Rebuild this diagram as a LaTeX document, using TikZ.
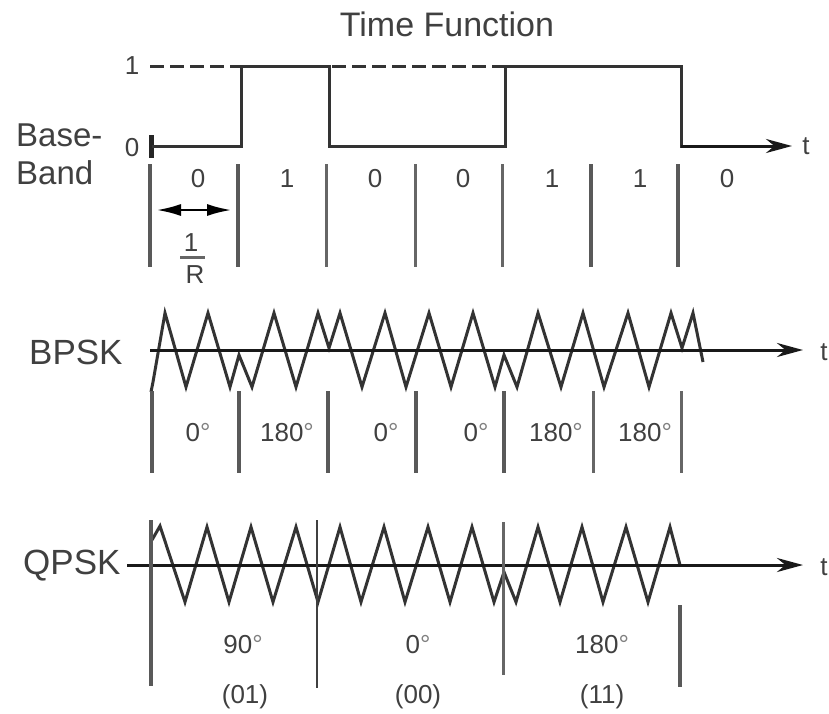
\documentclass[tikz,border=0pt]{standalone}
\usepackage{fontspec}
\setmainfont{Liberation Sans}
\usetikzlibrary{arrows.meta}
\definecolor{ink}{gray}{0.2}
\definecolor{txt}{gray}{0.25}
\newcommand{\dgr}{\textcolor{black!50}{\textdegree}}
\tikzset{
  x=1pt,y=-1pt,
  big/.style={font=\fontsize{34}{36}\selectfont,text=txt,inner sep=0pt},
  side/.style={font=\fontsize{33}{36}\selectfont,text=txt,inner sep=0pt},
  label/.style={font=\fontsize{35}{36}\selectfont,text=txt,inner sep=0pt},
  small/.style={font=\fontsize{26}{28}\selectfont,text=txt,inner sep=0pt},
  wave/.style={draw=ink,line width=3pt,line join=miter,miter limit=10},
  signal/.style={draw=ink,line width=3pt,line join=miter},
  axisline/.style={draw=black!90,line width=3pt,-{Stealth[length=26pt,width=14pt]}},
  tickmark/.style={draw=black!60,line width=3pt},
  tickthick/.style={draw=black!65,line width=3.2pt},
  dashline/.style={draw=ink,line width=3pt,dash pattern=on 14pt off 6pt},
}
\begin{document}
\begin{tikzpicture}
\useasboundingbox (0,0) rectangle (829,713);
\fill[white] (0,0) rectangle (829,713);
% titles and row labels
\node[big] (title) at (447,24) {Time Function};
\node[side,anchor=west] (base) at (16,135) {Base-};
\node[side,anchor=west] (band) at (16,173) {Band};
\node[small] (one) at (132,66) {1};
\node[small] (zero) at (132,148) {0};
\node[label,anchor=west] (bpsk) at (29,352) {BPSK};
\node[label,anchor=west] (qpsk) at (23,566) {QPSK};
% baseband
\coordinate (bstart) at (152,146);
\coordinate (bend) at (792,146);
\node[small] (tb) at (806,146) {t};
\draw[dashline] (150,66) -- (240,66);
\draw[dashline] (332,66) -- (505,66);
\draw[tickthick,draw=black!85,line width=5pt] (151,135) -- (151,158);
\draw[signal] (bstart) -- (241,146) -- (241,66) -- (329,66) -- (329,146) -- (505,146) -- (505,66) -- (681,66) -- (681,146) -- (690,146);
\draw[axisline] (681,146) -- (bend);
% baseband ticks
\foreach \x/\s in {150/tickthick,238/tickthick,326/tickmark,415/tickmark,502/tickmark,591/tickthick,678/tickthick}
  \draw[\s] (\x,164) -- (\x,267);
% bits
\foreach \x/\b [count=\i] in {198/0,287/1,375/0,463/0,552/1,640/1,727/0}
  \node[small] (bit\i) at (\x,179) {\b};
% 1/R
\coordinate (pa) at (157,210);
\coordinate (pb) at (231,210);
\draw[draw=black,line width=2pt,{Latex[length=24pt,width=12pt]}-{Latex[length=24pt,width=12pt]}] (pa) -- (pb);
\node[small] (fn) at (191,243) {1};
\coordinate (fa) at (180,257);
\coordinate (fb) at (205,257);
\draw[tickmark] (fa) -- (fb);
\node[small] (fd) at (195,275) {R};
% BPSK
\coordinate (a1) at (150,350);
\coordinate (a2) at (803,350);
\node[small] (t2) at (824,352) {t};
\draw[wave] plot coordinates {(151,392) (153,382) (165,313) (186,387) (208,313) (230,387) (239,355) (252,387) (274,313) (296,387) (318,313) (329,348) (340,313) (362,387) (385,313) (406,387) (429,313) (451,387) (473,313) (495,387) (504,355) (517,387) (538,313) (561,387) (583,313) (604,387) (628,313) (649,387) (671,313) (682,348) (693,313) (703,362)};
\draw[axisline] (a1) -- (a2);
\foreach \x/\s in {152/tickthick,239/tickthick,328/tickthick,416/tickthick,504/tickthick,593/tickmark,681/tickmark}
  \draw[\s] (\x,391) -- (\x,473);
\foreach \x/\l [count=\i] in {198/0,287/180,386/0,476/0,556/180,645/180}
  \node[small] (ph\i) at (\x,433) {\l\dgr};
% QPSK
\coordinate (q1) at (127,565);
\coordinate (q2) at (803,565);
\node[small] (t3) at (824,567) {t};
\draw[wave] plot coordinates {(152,540) (160,526) (185,602) (207,527) (229,602) (251,527) (273,602) (296,527) (318,602) (340,527) (361,602) (384,527) (405,602) (428,527) (450,602) (472,527) (494,602) (504,572) (516,602) (538,527) (560,602) (582,527) (603,602) (626,527) (648,602) (670,527) (680,565)};
\draw[axisline] (q1) -- (q2);
\draw[tickthick] (151,520) -- (151,686);
\draw[tickmark,draw=black!75,line width=2.4pt] (317,520) -- (317,688);
\draw[tickmark] (503,522) -- (503,675);
\draw[tickthick] (680,605) -- (680,687);
\node[small] (q90) at (243,645) {90\dgr};
\node[small] (q0) at (418,645) {0\dgr};
\node[small] (q180) at (602,645) {180\dgr};
\node[small] (c01) at (245,697) {(01)};
\node[small] (c00) at (418,697) {(00)};
\node[small] (c11) at (602,697) {(11)};
\end{tikzpicture}
\end{document}
